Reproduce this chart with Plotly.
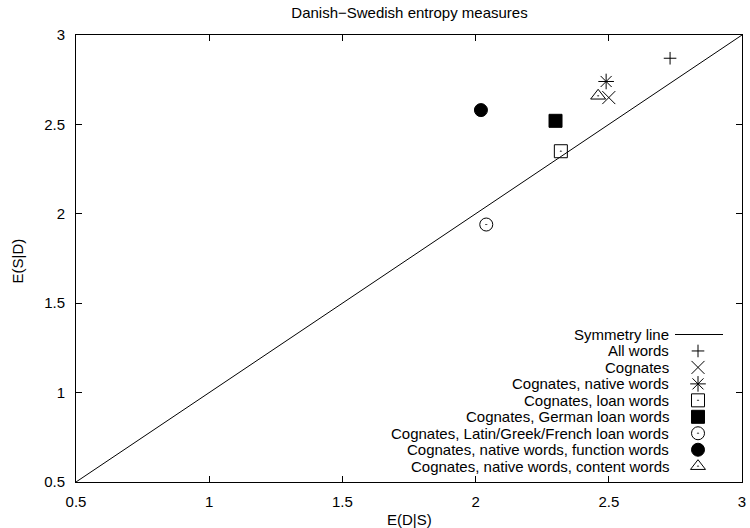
import plotly.graph_objects as go

# ---- data ----
series_names = [
    "All words",
    "Cognates",
    "Cognates, native words",
    "Cognates, loan words",
    "Cognates, German loan words",
    "Cognates, Latin/Greek/French loan words",
    "Cognates, native words, function words",
    "Cognates, native words, content words",
]
e_d_given_s = [2.73, 2.50, 2.49, 2.32, 2.30, 2.04, 2.02, 2.46]
e_s_given_d = [2.87, 2.65, 2.74, 2.35, 2.52, 1.94, 2.58, 2.66]
symmetry_line = [0.5, 3.0]
tick_values = [0.5, 1, 1.5, 2, 2.5, 3]
tick_labels = ["0.5", "1", "1.5", "2", "2.5", "3"]

# ---- styles ----
symbols = ["cross-thin-open", "x-thin-open", "asterisk-open", "square-open-dot",
           "square", "circle-open-dot", "circle", "triangle-up-open-dot"]
sizes = [9, 13, 13, 13, 13, 13, 13, 13]

FONT = "Liberation Sans, Arial, Helvetica, sans-serif"
FS = 15
W, H = 750, 528
L, R, T, B = 76, 742, 35, 482


def px_x(p):
    return (p - L) / (R - L)


def px_y(p):
    return (B - p) / (B - T)


fig = go.Figure()

fig.add_trace(go.Scatter(x=symmetry_line, y=symmetry_line, mode="lines",
                         line=dict(color="black", width=1), showlegend=False,
                         hoverinfo="skip"))

for name, xv, yv, sym, sz in zip(series_names, e_d_given_s, e_s_given_d, symbols, sizes):
    fig.add_trace(go.Scatter(x=[xv], y=[yv], mode="markers", name=name,
                             marker=dict(symbol=sym, size=sz, color="black",
                                         line=dict(color="black", width=1)),
                             showlegend=False))

# ---- custom gnuplot-style legend (text right-aligned, key on right) on a pixel overlay axis ----
row0, row_step = 334.5, 16.46
text_right = 671
key_x = 698
legend_labels = ["Symmetry line"] + series_names
annotations = []
for i, lab in enumerate(legend_labels):
    yy = row0 + i * row_step
    annotations.append(dict(x=text_right, y=yy, xref="x2", yref="y2", text=lab,
                            showarrow=False, xanchor="right", yanchor="middle",
                            font=dict(family=FONT, size=FS, color="black")))
    if i == 0:
        fig.add_trace(go.Scatter(x=[key_x - 23, key_x + 25], y=[yy, yy], mode="lines",
                                 line=dict(color="black", width=1), xaxis="x2", yaxis="y2",
                                 showlegend=False, hoverinfo="skip"))
    else:
        fig.add_trace(go.Scatter(x=[key_x], y=[yy], mode="markers", xaxis="x2", yaxis="y2",
                                 marker=dict(symbol=symbols[i - 1], size=sizes[i - 1], color="black",
                                             line=dict(color="black", width=1)),
                                 showlegend=False, hoverinfo="skip"))

# axis titles
annotations.append(dict(x=px_x(409.5), y=px_y(519), xref="paper", yref="paper", text="E(D|S)",
                        showarrow=False, xanchor="center", yanchor="middle",
                        font=dict(family=FONT, size=FS, color="black")))
annotations.append(dict(x=px_x(16.5), y=px_y(261), xref="paper", yref="paper", text="E(S|D)",
                        showarrow=False, xanchor="center", yanchor="middle", textangle=-90,
                        font=dict(family=FONT, size=FS, color="black")))

axis_common = dict(range=[0.5, 3], tickvals=tick_values, ticktext=tick_labels,
                   ticks="inside", ticklen=6, tickwidth=1, tickcolor="black",
                   showline=True, linecolor="black", linewidth=1, mirror="ticks",
                   showgrid=False, zeroline=False, automargin=False,
                   tickfont=dict(family=FONT, size=FS, color="black"))

fig.update_layout(
    width=W, height=H,
    margin=dict(l=L, r=W - R, t=T, b=H - B, pad=0),
    paper_bgcolor="white", plot_bgcolor="white",
    showlegend=False,
    xaxis=dict(**axis_common, ticklabelstandoff=6),
    yaxis=dict(**axis_common, ticklabelstandoff=7),
    xaxis2=dict(range=[L, R], overlaying="x", visible=False, fixedrange=True, automargin=False),
    yaxis2=dict(range=[B, T], overlaying="y", visible=False, fixedrange=True, automargin=False),
    title=dict(text="Danish\u2212Swedish entropy measures", x=(409.5 / W), xanchor="center",
               y=1 - 12.5 / H, yanchor="middle",
               font=dict(family=FONT, size=FS, color="black")),
    annotations=annotations,
)

fig.write_html("out.html")
